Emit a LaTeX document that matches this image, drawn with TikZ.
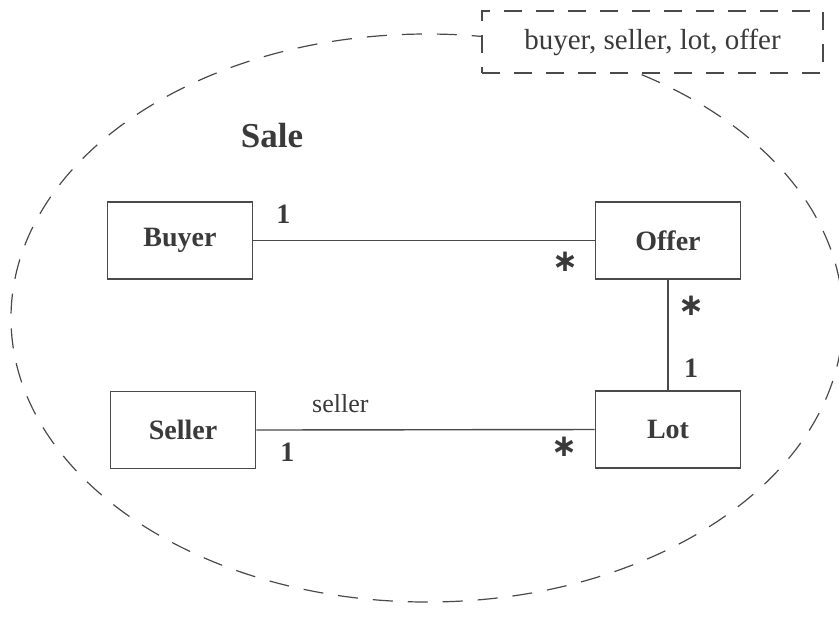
\documentclass[tikz,border=0pt]{standalone}
\usepackage{fontspec}
\setmainfont{Liberation Serif}
\newfontfamily\starfont{DejaVu Sans}
\usepackage{tikz}
\usetikzlibrary{positioning,calc}
\definecolor{inkGrey}{HTML}{3A3A3A}
\definecolor{lineGrey}{HTML}{4A4A4A}
\tikzset{
  classBox/.style={draw=lineGrey,line width=0.8pt,fill=white,
                   minimum width=72.5pt,minimum height=38.5pt,inner sep=2pt,
                   font=\fontsize{14}{16}\selectfont\bfseries,text=inkGrey},
  assocLine/.style={draw=lineGrey,line width=0.7pt},
  multLabel/.style={font=\fontsize{14}{16}\selectfont\bfseries,text=inkGrey,inner sep=1pt},
  manyLabel/.style={font=\starfont\fontsize{15.5}{16}\selectfont\bfseries,text=inkGrey,inner sep=1pt},
  roleLabel/.style={font=\fontsize{13}{15}\selectfont,text=inkGrey,inner sep=1pt},
  saleLine/.style={draw=lineGrey,line width=0.6pt,dash pattern=on 10pt off 7.5pt},
  paramBox/.style={draw=lineGrey,line width=0.6pt,dash pattern=on 9pt off 7pt,
                   fill=white,minimum width=170.5pt,minimum height=31pt,
                   font=\fontsize{14.5}{16}\selectfont,text=inkGrey},
}
\begin{document}
\begin{tikzpicture}[x=0.5pt,y=-0.5pt]
\useasboundingbox (0,0) rectangle (839,629);

% Collaboration outline and its parameter box.
\draw[saleLine] (427,318) ellipse [x radius=208pt,y radius=142pt];
\node[paramBox] (params) at (652.5,42) {buyer, seller, lot, offer};
\node[font=\fontsize{17.5}{20}\selectfont\bfseries,text=inkGrey] (sale) at (272,136) {Sale};

% Classes.
\node[classBox] (buyer)  at (180,240.5) {Buyer};
\node[classBox] (offer)  at (668,240.5) {Offer};
\node[classBox] (seller) at (183,430)   {Seller};
\node[classBox] (lot)    at (668,429.5) {Lot};

% Associations.
\draw[assocLine] (buyer.east)  -- (offer.west);
\draw[assocLine] (seller.east) -- (lot.west);
\draw[assocLine] (offer.south) -- (lot.north);

% Multiplicities and role name.
\node[multLabel] (mBuyer)  at ([xshift=15pt,yshift=13pt]buyer.east)     {1};
\node[manyLabel] (mOfferW) at ([xshift=-14.5pt,yshift=-10.5pt]offer.west) {∗};
\node[manyLabel] (mOfferS) at ([xshift=11.5pt,yshift=-13pt]offer.south)  {∗};
\node[multLabel] (mLotN)   at ([xshift=11.5pt,yshift=11pt]lot.north)      {1};
\node[roleLabel] (rSeller) at ([xshift=42pt,yshift=13pt]seller.east)    {seller};
\node[multLabel] (mSeller) at ([xshift=15.5pt,yshift=-11pt]seller.east) {1};
\node[manyLabel] (mLotW)   at ([xshift=-15pt,yshift=-8.5pt]lot.west)  {∗};

\end{tikzpicture}
\end{document}
